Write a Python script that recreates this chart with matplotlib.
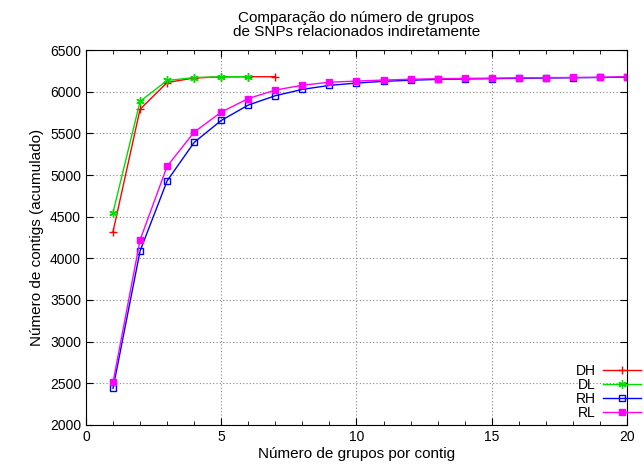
import matplotlib
matplotlib.use("Agg")
import matplotlib.pyplot as plt
from matplotlib.ticker import MultipleLocator

plt.rcParams['font.family'] = ['Liberation Sans', 'DejaVu Sans']

x_d = [1, 2, 3, 4, 5, 6, 7]
dh = [4320, 5790, 6110, 6165, 6178, 6180, 6180]
x_dl = [1, 2, 3, 4, 5, 6]
dl = [4550, 5885, 6135, 6170, 6180, 6180]
x_r = list(range(1, 21))
rh = [2440, 4088, 4930, 5392, 5655, 5840, 5952, 6028, 6076, 6104,
      6125, 6138, 6148, 6153, 6157, 6161, 6165, 6168, 6171, 6175]
rl = [2512, 4220, 5105, 5515, 5755, 5918, 6020, 6078, 6114, 6128,
      6140, 6150, 6156, 6160, 6163, 6166, 6169, 6171, 6174, 6180]

fig = plt.figure(figsize=(6.44, 4.68), dpi=100)
ax = fig.add_axes([0.1335, 0.092, 0.840, 0.801])

ax.plot(x_d, dh, color='#ff0000', marker='+', ms=6, mew=1, lw=1, label='DH')
ax.plot(x_dl, dl, color='#00dd00', marker=(6, 2, 0), ms=6, mew=1, lw=1, label='DL')
ax.plot(x_r, rh, color='#0000ff', marker='s', ms=5, mfc='none', mew=1, lw=1, label='RH')
ax.plot(x_r, rl, color='#ff00ff', marker='s', ms=5, mew=1, lw=1, label='RL')

ax.set_xlim(0, 20)
ax.set_ylim(2000, 6500)
ax.xaxis.set_major_locator(MultipleLocator(5))
ax.xaxis.set_minor_locator(MultipleLocator(1))
ax.yaxis.set_major_locator(MultipleLocator(500))
ax.tick_params(which='both', direction='in', top=True, right=True, labelsize=10)
ax.tick_params(which='major', length=5)
ax.tick_params(which='minor', length=3)
ax.grid(True, which='major', color='#888888', linestyle=(0, (1, 2)), lw=0.8)

ax.set_xlabel('Número de grupos por contig', fontsize=11, labelpad=2)
ax.set_ylabel('Número de contigs (acumulado)', fontsize=11)
ax.set_title('Comparação do número de grupos\nde SNPs relacionados indiretamente',
             fontsize=11, linespacing=1.0, pad=10)

leg = ax.legend(loc='lower right', frameon=False, markerfirst=False,
                fontsize=10, handlelength=2.75, labelspacing=0.0,
                borderpad=0, borderaxespad=0, handletextpad=0.5,
                bbox_to_anchor=(641 / 644, 1 - 420 / 468),
                bbox_transform=fig.transFigure)
for t in leg.get_texts():
    t.set_ha('right')
leg.set_clip_on(False)

fig.savefig('out.png', dpi=100)
